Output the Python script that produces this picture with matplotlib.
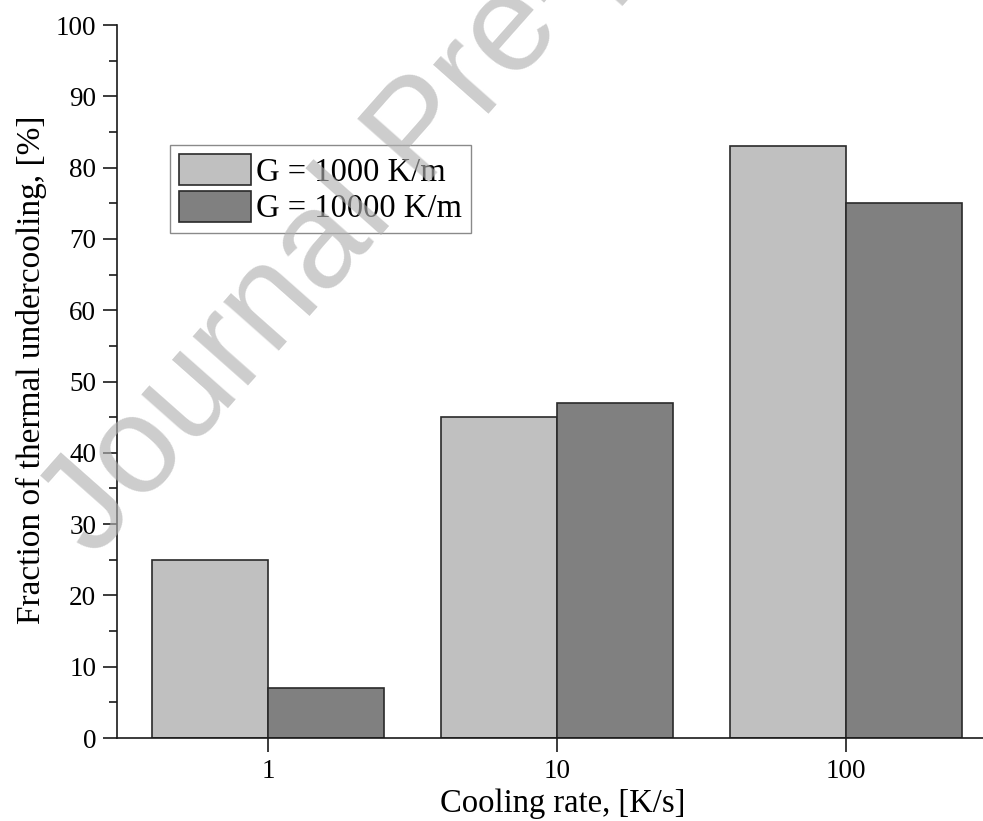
import numpy as np
import matplotlib
matplotlib.use("Agg")
import matplotlib.pyplot as plt
from matplotlib.ticker import MultipleLocator

# Data
cooling_rates = ["1", "10", "100"]
series_labels = ["G = 1000 K/m", "G = 10000 K/m"]
g1000_values = [25, 45, 83]
g10000_values = [7, 47, 75]

plt.rcParams["font.family"] = ["Liberation Serif", "DejaVu Serif"]

W, H = 983, 821
fig = plt.figure(figsize=(W / 100, H / 100), dpi=100)

# axes placed in pixel terms
ax_left, ax_right, ax_top, ax_bottom = 117, 997, 25, 738
ax = fig.add_axes([ax_left / W, (H - ax_bottom) / H,
                   (ax_right - ax_left) / W, (ax_bottom - ax_top) / H])

x = np.arange(len(cooling_rates))
width = 0.4
edge = "#2a2a2a"
ax.bar(x - width / 2, g1000_values, width, color="#c0c0c0",
       edgecolor=edge, linewidth=1.2, label=series_labels[0], zorder=2)
ax.bar(x + width / 2, g10000_values, width, color="#808080",
       edgecolor=edge, linewidth=1.2, label=series_labels[1], zorder=2)

ax.set_xlim(-0.522, 2.522)
ax.set_ylim(0, 100)
ax.set_xticks(x)
ax.set_xticklabels(cooling_rates)
ax.yaxis.set_major_locator(MultipleLocator(10))
ax.yaxis.set_minor_locator(MultipleLocator(5))

for side in ("top", "right"):
    ax.spines[side].set_visible(False)
for side in ("left", "bottom"):
    ax.spines[side].set_linewidth(1.2)
    ax.spines[side].set_color("#1a1a1a")

ax.tick_params(axis="both", which="major", direction="out", length=10,
               width=1.2, labelsize=19.5, pad=5, color="#1a1a1a")
ax.tick_params(axis="y", which="minor", direction="out", length=6,
               width=1.2, color="#1a1a1a")
ax.tick_params(axis="x", which="minor", bottom=False)

ax.set_xlabel("Cooling rate, [K/s]", fontsize=23.5, labelpad=3)
ax.xaxis.label.set_x(0.507)
ax.set_ylabel("Fraction of thermal undercooling, [%]", fontsize=24,
              labelpad=6)
ax.yaxis.label.set_y(0.517)

leg = ax.legend(loc="upper left", bbox_to_anchor=(170 / W, (H - 145) / H),
                bbox_transform=fig.transFigure, borderaxespad=0,
                fontsize=23.5, handlelength=2.2, handleheight=1.1,
                labelspacing=0.08, borderpad=0.28, handletextpad=0.15,
                fancybox=False, framealpha=1, edgecolor="#8a8a8a")
leg.get_frame().set_linewidth(1.0)

# journal watermark across the plot
fig.text(94 / W, (H - 560) / H, "Journal Pre-proof",
         family=["Liberation Sans", "DejaVu Sans"], fontsize=100,
         color="#b0b0b0", alpha=0.63, rotation=48.5,
         rotation_mode="anchor", ha="left", va="baseline", zorder=10)

fig.savefig("out.png", dpi=100)
